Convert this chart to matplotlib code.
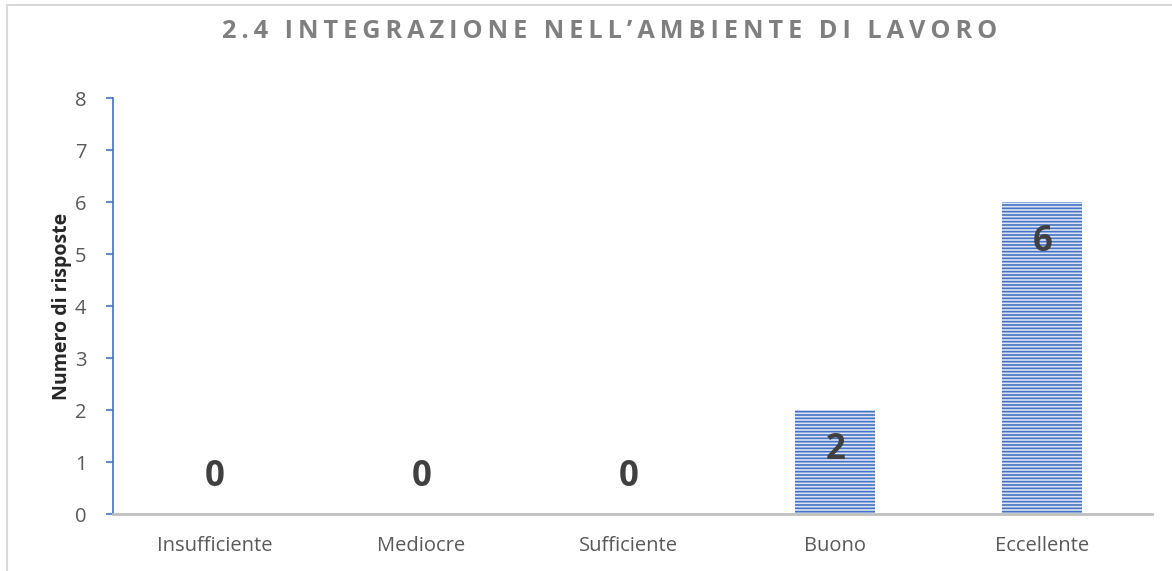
import matplotlib.pyplot as plt
from matplotlib.patches import Rectangle

plt.rcParams["font.family"] = ["Open Sans", "DejaVu Sans"]
plt.rcParams["hatch.linewidth"] = 1.2
plt.rcParams["hatch.color"] = "#4472C4"

categories = ["Insufficiente", "Mediocre", "Sufficiente", "Buono", "Eccellente"]
risposte = [0, 0, 0, 2, 6]
title = "2.4 INTEGRAZIONE NELL\u2019AMBIENTE DI LAVORO"

fig = plt.figure(figsize=(11.72, 5.71), dpi=100)
ax = fig.add_axes([113 / 1172, 57 / 571, 1039 / 1172, 416 / 571])

# chart frame (left/top edges visible)
fig.patches.append(Rectangle((7 / 1172, -0.2), 1.2, 1.2 - 5 / 571,
                             transform=fig.transFigure, fill=False,
                             edgecolor="#D9D9D9", linewidth=1.5))

x = range(len(categories))
ax.bar(x, risposte, width=0.385, color="#DDE5F5", edgecolor="#4472C4",
       linewidth=0, hatch="-----")

for i, v in enumerate(risposte):
    off = -40 if v > 0 else 37
    ax.annotate(str(v), (i, v), xytext=(0, off), textcoords="offset pixels",
                ha="center", va="center", fontsize=25, fontweight="bold",
                color="#404040")

ax.set_xlim(-0.49, 4.53)
ax.set_ylim(0, 8)
ax.set_xticks(list(x))
ax.set_xticklabels(categories)
ax.set_yticks(range(0, 9))
ax.tick_params(axis="x", length=0, pad=16, labelsize=14.5, labelcolor="#595959")
ax.tick_params(axis="y", length=5, width=1.2, color="#4472C4", pad=14,
               labelsize=14.5, labelcolor="#595959")

for s in ["top", "right"]:
    ax.spines[s].set_visible(False)
ax.spines["left"].set_color("#4472C4")
ax.spines["left"].set_linewidth(1.2)
ax.spines["bottom"].set_color("#BFBFBF")
ax.spines["bottom"].set_linewidth(2)

ax.set_ylabel("Numero di risposte", fontsize=14, fontweight="bold",
              color="#262626", labelpad=2)

spaced = "\u2009".join(title)
fig.text(0.5205, 1 - 32 / 571, spaced, ha="center", va="center",
         fontsize=18.2, fontweight="bold", color="#7F7F7F")

fig.savefig("out.png", dpi=100)
